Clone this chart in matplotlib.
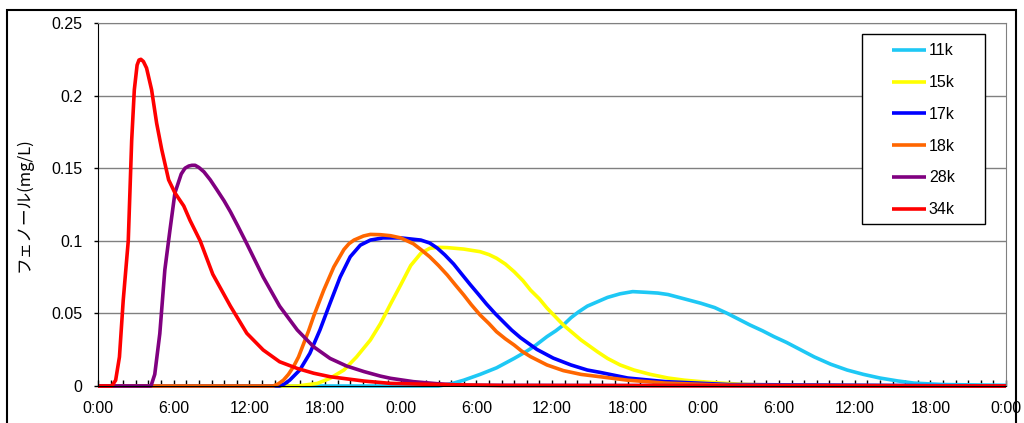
import matplotlib
matplotlib.use("Agg")
import matplotlib.pyplot as plt
from matplotlib.patches import Rectangle
from matplotlib.ticker import MultipleLocator

# elapsed time in hours (three days) and phenol concentration (mg/L)
tick_labels = ["0:00", "6:00", "12:00", "18:00", "0:00", "6:00", "12:00",
               "18:00", "0:00", "6:00", "12:00", "18:00", "0:00"]

h_11k = [0, 27, 28, 29, 30.3, 31.6, 33.0, 34.0, 34.7, 35.6, 36.3, 36.9, 37.5,
         38.1, 38.8, 39.6, 40.4, 41.4, 42.4, 43.5, 44.4, 45.2, 46.5, 47.8,
         48.9, 49.9, 50.8, 51.7, 52.7, 53.6, 54.6, 55.7, 56.8, 58.1, 59.4,
         60.7, 62, 63.4, 64.7, 67, 72]
v_11k = [0, 0, 0.0015, 0.004, 0.008, 0.0125, 0.019, 0.024, 0.028, 0.034,
         0.038, 0.042, 0.047, 0.051, 0.055, 0.058, 0.061, 0.0635, 0.065,
         0.0645, 0.064, 0.063, 0.060, 0.057, 0.054, 0.050, 0.046, 0.042, 0.038,
         0.034, 0.030, 0.025, 0.020, 0.015, 0.011, 0.008, 0.0055, 0.0035,
         0.002, 0.001, 0.0005]

h_15k = [0, 15.8, 17.4, 18.4, 19.5, 20.5, 21.6, 22.4, 23.2, 24.0, 24.8, 25.6,
         26.3, 27.0, 27.7, 29.0, 30.3, 31.0, 31.6, 32.3, 33.0, 33.7, 34.3,
         35.0, 35.6, 36.9, 38.3, 39.6, 40.4, 41.4, 42.5, 43.8, 45.2, 46.5,
         47.8, 49.4, 51, 55, 72]
v_15k = [0, 0, 0.0018, 0.0053, 0.011, 0.020, 0.0317, 0.043, 0.0565, 0.0696,
         0.083, 0.0914, 0.0948, 0.0955, 0.0953, 0.0943, 0.0925, 0.0905, 0.088,
         0.084, 0.0787, 0.0725, 0.066, 0.060, 0.0537, 0.042, 0.0317, 0.0236,
         0.019, 0.0145, 0.011, 0.008, 0.0055, 0.004, 0.003, 0.002, 0.0012,
         0.0004, 0]

h_17k = [0, 14.4, 14.8, 15.2, 16.0, 16.8, 17.6, 18.4, 19.2, 20.0, 20.8, 21.6,
         22.6, 24.0, 25.6, 26.3, 26.9, 27.5, 28.2, 28.8, 29.5, 30.2, 30.8,
         31.5, 32.2, 32.8, 33.5, 34.8, 36.1, 37.5, 38.8, 39.8, 42, 45, 50, 72]
v_17k = [0, 0, 0.0015, 0.004, 0.011, 0.0225, 0.0386, 0.057, 0.075, 0.089,
         0.097, 0.1005, 0.102, 0.102, 0.1005, 0.0985, 0.0950, 0.0903, 0.0840,
         0.0775, 0.0700, 0.0628, 0.0565, 0.0498, 0.0437, 0.0385, 0.0333,
         0.0252, 0.0192, 0.0145, 0.011, 0.0094, 0.0055, 0.003, 0.001, 0]

h_18k = [0, 13.9, 14.3, 14.7, 15.1, 15.5, 15.9, 16.3, 16.7, 17.1, 17.5, 17.9,
         18.3, 18.7, 19.1, 19.5, 19.9, 20.3, 20.7, 21.05, 21.6, 22.4, 23.2,
         24.0, 25.0, 25.6, 26.3, 27.0, 27.7, 28.3, 29.0, 29.6, 30.3, 31.0,
         31.6, 32.3, 33.0, 33.6, 34.3, 35.6, 36.9, 38.3, 39.8, 42, 45, 50, 72]
v_18k = [0, 0, 0.0015, 0.004, 0.008, 0.0133, 0.020, 0.029, 0.038, 0.048,
         0.057, 0.066, 0.074, 0.082, 0.088, 0.094, 0.098, 0.1005, 0.102,
         0.1033, 0.1044, 0.1042, 0.1035, 0.102, 0.098, 0.094, 0.089, 0.083,
         0.0764, 0.070, 0.0627, 0.056, 0.0489, 0.043, 0.0374, 0.0325, 0.0282,
         0.024, 0.0202, 0.0145, 0.0106, 0.008, 0.0064, 0.004, 0.002, 0.0005, 0]

h_28k = [0, 4.2, 4.5, 4.9, 5.3, 5.7, 6.1, 6.6, 6.9, 7.2, 7.45, 7.7, 8.0, 8.4,
         8.9, 9.4, 10.0, 10.5, 11.1, 11.8, 13.1, 14.4, 15.8, 17.1, 18.4, 19.7,
         21.1, 22.4, 23.2, 25, 27, 29, 72]
v_28k = [0, 0, 0.008, 0.036, 0.080, 0.107, 0.133, 0.146, 0.150, 0.1515, 0.152,
         0.152, 0.1505, 0.1475, 0.142, 0.1355, 0.1275, 0.120, 0.110, 0.098,
         0.075, 0.055, 0.0386, 0.027, 0.019, 0.0138, 0.0099, 0.0068, 0.0053,
         0.003, 0.0015, 0.0005, 0]

h_34k = [0, 1.1, 1.4, 1.7, 2.0, 2.4, 2.67, 2.88, 3.1, 3.25, 3.4, 3.6, 3.85,
         4.25, 4.65, 5.05, 5.6, 6.1, 6.8, 7.3, 8.1, 9.1, 10.5, 11.8, 13.1, 14.4,
         15.8, 17.1, 18.4, 21.1, 23.2, 27, 32, 72]
v_34k = [0, 0, 0.004, 0.020, 0.059, 0.100, 0.169, 0.204, 0.221, 0.2245, 0.225,
         0.2235, 0.219, 0.204, 0.181, 0.163, 0.142, 0.133, 0.124, 0.114, 0.100,
         0.077, 0.055, 0.0363, 0.0248, 0.0167, 0.0121, 0.0088, 0.0064, 0.0034,
         0.0018, 0.001, 0.0003, 0]

series = [
    ("11k", h_11k, v_11k, "#1ec8f5"),
    ("15k", h_15k, v_15k, "#ffff00"),
    ("17k", h_17k, v_17k, "#0000ff"),
    ("18k", h_18k, v_18k, "#ff6600"),
    ("28k", h_28k, v_28k, "#800080"),
    ("34k", h_34k, v_34k, "#ff0000"),
]

plt.rcParams['font.family'] = ['Liberation Sans', 'DejaVu Sans']

fig = plt.figure(figsize=(10.24, 4.23), dpi=100)
ax = fig.add_axes([98 / 1024, 1 - 386 / 423, 908 / 1024, 363 / 423])

lines = []
for name, hx, vy, col in series:
    ln, = ax.plot(hx, vy, color=col, lw=2.6, label=name, clip_on=False,
                  solid_capstyle="butt", solid_joinstyle="round")
    lines.append(ln)

ax.set_xlim(0, 72)
ax.set_ylim(0, 0.25)
ax.set_xticks(range(0, 73, 6))
ax.set_xticklabels(tick_labels)
ax.xaxis.set_minor_locator(MultipleLocator(1))
ax.set_yticks([0, 0.05, 0.1, 0.15, 0.2, 0.25])
ax.set_yticklabels(["0", "0.05", "0.1", "0.15", "0.2", "0.25"])

ax.tick_params(axis="x", which="both", direction="in", length=4, width=1,
               pad=11, labelsize=11.5, colors="black")
ax.tick_params(axis="y", direction="out", length=3, width=1, pad=8,
               labelsize=11.5)

ax.grid(axis="y", color="#808080", lw=1)
ax.set_axisbelow(True)
for side in ("top", "right"):
    ax.spines[side].set_color("#808080")
ax.spines["left"].set_color("black")
ax.spines["bottom"].set_color("black")

ax.set_ylabel("フェノール(mg/L)", family=["Noto Sans CJK JP", "DejaVu Sans"],
              fontsize=12)
ax.yaxis.set_label_coords(-0.072, 0.5)

# legend box
ax.add_patch(Rectangle((0.841, 0.446), 0.136, 0.524, transform=ax.transAxes,
                       facecolor="white", edgecolor="black", lw=1, zorder=5))
ax.legend(handles=lines, loc="upper left", bbox_to_anchor=(0.874, 0.944),
          frameon=False, borderpad=0, borderaxespad=0, handlelength=2.13,
          handletextpad=0.2, labelspacing=1.05, fontsize=11.5).set_zorder(6)

# outer chart frame
fig.add_artist(Rectangle((7 / 1024, -0.05), 1009 / 1024, 1.05 - 10 / 423,
                         transform=fig.transFigure, fill=False,
                         edgecolor="black", lw=1.5))

fig.savefig("out.png", dpi=100)
